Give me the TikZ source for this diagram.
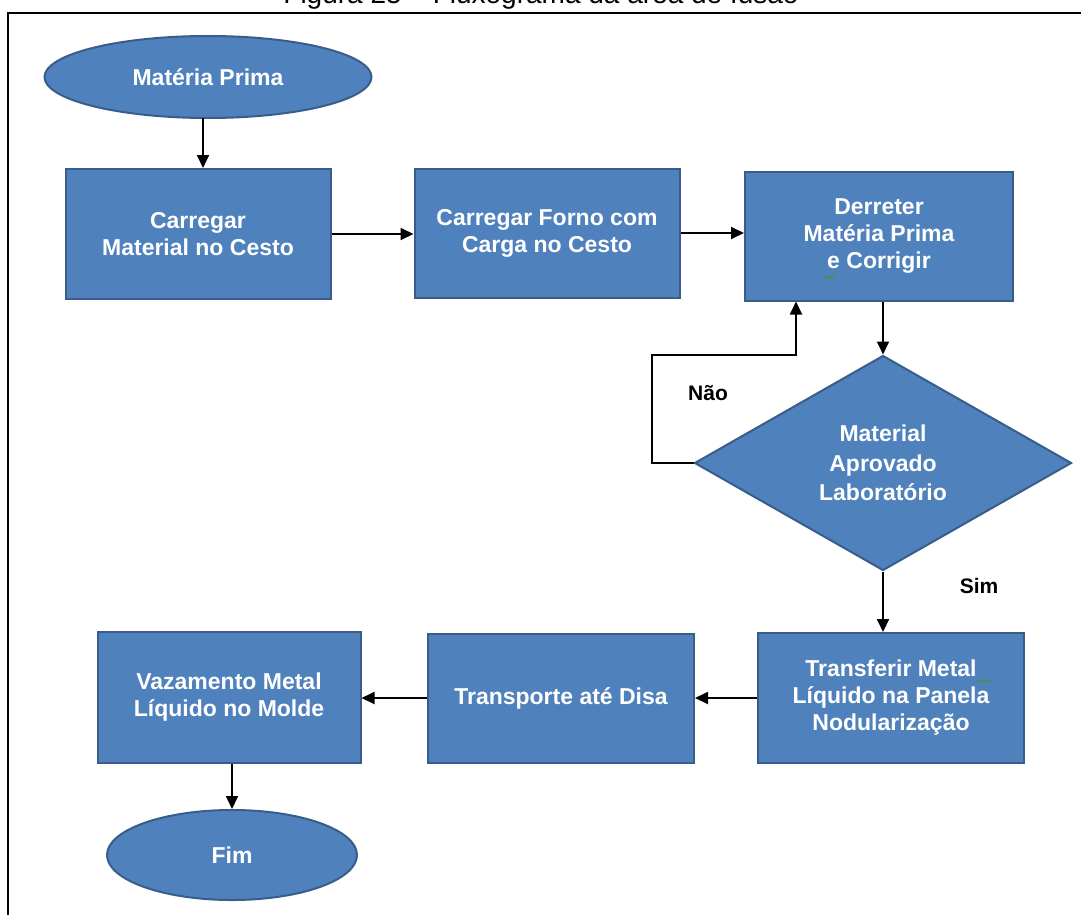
\documentclass[tikz,border=0pt]{standalone}
\usepackage{fontspec}
\setmainfont{Liberation Sans}
\usetikzlibrary{shapes.geometric,arrows.meta,decorations.pathmorphing}
\definecolor{boxfill}{HTML}{4F81BD}
\definecolor{boxline}{HTML}{385D8A}
\definecolor{squiggle}{HTML}{3A9A3A}
\tikzset{
  base/.style={fill=boxfill, draw=boxline, line width=2pt, text=white,
    font=\fontsize{23}{27}\selectfont\bfseries, align=center, inner sep=0pt},
  procbox/.style={base, rectangle, minimum width=#1, minimum height=130pt},
  terminal/.style={base, ellipse, minimum width=#1, minimum height=82pt},
  decision/.style={base, diamond, minimum width=377pt, minimum height=215pt, aspect=1.75,
    font=\fontsize{23}{29.5}\selectfont\bfseries},
  flow/.style={line width=1.8pt, -{Triangle[length=13pt,width=12pt]}},
  lbl/.style={font=\fontsize{21}{24}\selectfont\bfseries, text=black},
  spellmark/.style={draw=squiggle, line width=0.8pt,
    decorate, decoration={snake, amplitude=1pt, segment length=3pt}}
}
\begin{document}
\begin{tikzpicture}[x=1pt,y=-1pt]
\useasboundingbox (0,0) rectangle (1081,915);
\fill[white] (0,0) rectangle (1081,915);
% caption, cut off at the top edge
\begin{scope}
\clip (0,0) rectangle (1081,915);
\node[anchor=base, font=\fontsize{28}{32}\selectfont, inner sep=0pt] (cap) at (541,4) {Figura 25 -- Fluxograma da área de fusão};
\end{scope}
% frame
\draw[line width=2pt] (8,915) -- (8,13) -- (1081,13);

% nodes
\node[terminal=327pt] (mp) at (208,77) {Matéria Prima};
\node[procbox=265pt] (c1) at (198,234) {Carregar\\Material no Cesto};
\node[procbox=265pt, minimum height=129pt] (c2) at (547,233) {Carregar Forno com\\Carga no Cesto};
\node[procbox=268pt, minimum height=129pt] (d) at (879,236) {Derreter\\Matéria Prima\\e Corrigir};
\node[decision] (q) at (883,463) {Material\\Aprovado\\Laboratório};
\node[procbox=266pt] (t) at (891,698) {Transferir Metal\\Líquido na Panela\\Nodularização};
\node[procbox=266pt, minimum height=129pt] (tr) at (561,698) {Transporte até Disa};
\node[procbox=263pt, minimum height=131pt] (v) at (229,697) {Vazamento Metal\\Líquido no Molde};
\node[terminal=250pt, minimum height=90pt] (fim) at (232,855) {Fim};

% spell-check marks left in the labels
\coordinate (s1) at (824,277);
\coordinate (s2) at (836,277);
\coordinate (s3) at (978,681);
\coordinate (s4) at (991,681);
\draw[spellmark] (s1) -- (s2);
\draw[spellmark] (s3) -- (s4);

% connectors
\coordinate (a0) at (203,118);
\draw[flow] (a0) -- (a0 |- c1.north);
\draw[flow] (c1.east) -- (c2.west |- c1.east);
\draw[flow] (c2.east) -- (d.west |- c2.east);
\draw[flow] (d.south -| q.north) -- (q.north);
\coordinate (l1) at (652,463);
\coordinate (l2) at (652,355);
\coordinate (l3) at (796,355);
\draw[flow] (q.west) -- (l1) -- (l2) -- (l3) -- (l3 |- d.south);
\draw[flow] (q.south) -- (q.south |- t.north);
\draw[flow] (t.west) -- (tr.east |- t.west);
\draw[flow] (tr.west) -- (v.east |- tr.west);
\draw[flow] (v.south -| fim.north) -- (fim.north);

% branch labels
\node[lbl] (nao) at (708,393) {Não};
\node[lbl] (sim) at (979,586) {Sim};
\end{tikzpicture}
\end{document}
